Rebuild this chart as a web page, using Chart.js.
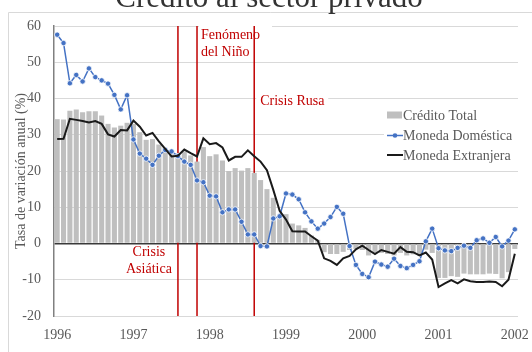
<!DOCTYPE html>
<html>
<head>
<meta charset="utf-8">
<style>
  html, body { margin: 0; padding: 0; background: #ffffff; overflow: hidden; }
  canvas { display: block; }
</style>
<script src="https://cdn.jsdelivr.net/npm/chart.js@4.4.1/dist/chart.umd.min.js"></script>
</head>
<body>
<canvas id="chart" width="532" height="352"></canvas>
<script>
// Monthly categories, Jan 1996 .. Jan 2002
const years = [1996, 1997, 1998, 1999, 2000, 2001];
const monthNumbers = ['01','02','03','04','05','06','07','08','09','10','11','12'];
const months = [];
years.forEach(y => monthNumbers.forEach(m => months.push(y + '-' + m)));
months.push('2002-01');

// Annual growth rate (%) of private-sector credit
const creditoTotal = [
  34.3, 34.2, 36.6, 37.0, 36.2, 36.5, 36.5, 35.3, 33.0, 32.0, 32.5, 33.3,
  33.0, 30.7, 28.6, 28.8, 27.3, 26.4, 24.6, 24.9, 25.4, 24.3, 22.6, 26.6,
  24.1, 24.6, 22.9, 20.0, 20.8, 20.1, 20.8, 19.5, 17.5, 15.0, 12.6, 8.0,
  8.1, 5.5, 5.0, 4.3, 2.2, 1.0, -2.4, -2.9, -2.9, -2.3, -1.8, -1.5,
  -1.8, -3.3, -2.7, -2.6, -2.9, -3.3, -2.6, -3.3, -3.0, -3.3, -1.7, -2.6,
  -9.5, -9.5, -9.0, -9.2, -8.3, -8.5, -8.5, -8.5, -8.3, -8.4, -9.6, -7.9,
  -1.5
];
const monedaDomestica = [
  57.6, 55.3, 44.2, 46.5, 44.7, 48.3, 45.9, 45.0, 44.1, 41.0, 37.0, 40.9,
  28.7, 24.8, 23.4, 21.7, 24.2, 25.8, 25.4, 24.1, 22.6, 21.7, 17.4, 16.9,
  13.2, 13.0, 8.6, 9.4, 9.4, 6.0, 2.5, 2.5, -0.7, -0.8, 6.9, 7.5,
  13.8, 13.5, 12.2, 8.6, 6.1, 4.1, 5.5, 7.3, 10.1, 8.2, -0.7, -5.9,
  -8.4, -9.3, -5.0, -5.8, -6.4, -4.2, -6.2, -6.8, -5.9, -4.9, 0.6, 4.1,
  -1.3, -1.9, -2.1, -1.2, -0.6, -1.2, 0.9, 1.4, 0.2, 1.8, -0.8, 0.8,
  3.9
];
const monedaExtranjera = [
  28.8, 28.9, 34.4, 34.1, 33.8, 33.4, 33.8, 33.0, 30.1, 29.5, 31.3, 31.2,
  33.9, 32.2, 29.8, 30.5, 28.2, 26.1, 24.0, 24.2, 25.9, 24.9, 24.0, 29.0,
  27.4, 27.7, 26.5, 22.9, 23.9, 23.9, 25.7, 24.1, 22.6, 20.2, 14.8, 9.0,
  6.6, 3.4, 3.3, 3.3, 2.0, 0.8, -4.1, -4.8, -5.9, -4.1, -3.4, -1.6,
  -0.6, -1.8, -2.9, -1.8, -2.3, -2.8, -1.0, -2.3, -2.4, -3.3, -2.5, -4.4,
  -12.0, -11.0, -10.1, -11.0, -9.9, -10.4, -10.6, -10.6, -10.5, -10.6, -11.8, -10.0,
  -2.8
];

// Value axis
const yMin = -20;
const yMax = 60;
const yStep = 10;

// Marked events
const eventMonths = ['1997-08', '1997-11', '1998-08'];
const eventLabels = [['Crisis', 'Asiática'], ['Fenómeno', 'del Niño'], ['Crisis Rusa']];

const seriesNames = ['Crédito Total', 'Moneda Doméstica', 'Moneda Extranjera'];
const chartTitle = 'Crédito al sector privado';
const yAxisTitle = 'Tasa de variación anual (%)';

const SERIF = '"Liberation Serif", "Times New Roman", "DejaVu Serif", serif';
const GRAY_TEXT = '#595959';
const RED = '#C00000';
const BAR_GRAY = '#BFBFBF';
const BLUE = '#4472C4';
const BLACK = '#1a1a1a';

Chart.defaults.font.family = SERIF;
Chart.defaults.color = GRAY_TEXT;

const decorations = {
  id: 'decorations',
  beforeDatasetsDraw(chart) {
    const { ctx, chartArea: a, scales: { x } } = chart;
    const ex = eventMonths.map(m => x.getPixelForValue(months.indexOf(m)));
    ctx.save();
    // white backing behind the upper annotation texts
    ctx.fillStyle = '#ffffff';
    ctx.fillRect(ex[1] + 2, a.top - 2, 73, 34);
    ctx.fillRect(ex[2] + 2, 90, 72, 18);
    // vertical event markers
    ctx.strokeStyle = RED;
    ctx.lineWidth = 1.5;
    ex.forEach(px => {
      ctx.beginPath();
      ctx.moveTo(px, a.top);
      ctx.lineTo(px, a.bottom);
      ctx.stroke();
    });
    // event texts
    ctx.fillStyle = RED;
    ctx.font = '14px ' + SERIF;
    ctx.textBaseline = 'alphabetic';
    ctx.textAlign = 'center';
    ctx.fillText(eventLabels[0][0], ex[0] - 29, 256);
    ctx.fillText(eventLabels[0][1], ex[0] - 29, 273);
    ctx.textAlign = 'left';
    ctx.fillText(eventLabels[1][0], ex[1] + 4, 39);
    ctx.fillText(eventLabels[1][1], ex[1] + 4, 56);
    ctx.fillText(eventLabels[2][0], ex[2] + 6, 105);
    ctx.restore();
  },
  afterDatasetsDraw(chart) {
    const { ctx, chartArea: a } = chart;
    ctx.save();
    // legend inside the plot
    const lx = 387, rowY = [115, 135.5, 155], tx = 403;
    ctx.fillStyle = '#ffffff';
    ctx.fillRect(lx - 3, 104, a.right - lx + 3, 60);
    ctx.fillStyle = BAR_GRAY;
    ctx.fillRect(lx, rowY[0] - 3.5, 15, 7);
    ctx.strokeStyle = BLUE;
    ctx.lineWidth = 1.5;
    ctx.beginPath(); ctx.moveTo(lx, rowY[1]); ctx.lineTo(tx, rowY[1]); ctx.stroke();
    ctx.fillStyle = BLUE;
    ctx.beginPath(); ctx.arc((lx + tx) / 2, rowY[1], 2.3, 0, Math.PI * 2); ctx.fill();
    ctx.strokeStyle = BLACK;
    ctx.lineWidth = 2;
    ctx.beginPath(); ctx.moveTo(lx, rowY[2]); ctx.lineTo(tx, rowY[2]); ctx.stroke();
    ctx.fillStyle = GRAY_TEXT;
    ctx.font = '14px ' + SERIF;
    ctx.textAlign = 'left';
    ctx.textBaseline = 'alphabetic';
    seriesNames.forEach((n, i) => ctx.fillText(n, tx, rowY[i] + 4.7));
    ctx.restore();
  },
  afterDraw(chart) {
    const { ctx, chartArea: a } = chart;
    ctx.save();
    // outer frame
    ctx.strokeStyle = '#d9d9d9';
    ctx.lineWidth = 1;
    ctx.beginPath();
    ctx.moveTo(8.5, 352);
    ctx.lineTo(8.5, 12.5);
    ctx.lineTo(532, 12.5);
    ctx.stroke();
    // title
    ctx.fillStyle = '#333333';
    ctx.font = '31px ' + SERIF;
    ctx.textAlign = 'center';
    ctx.textBaseline = 'alphabetic';
    ctx.fillText(chartTitle, 269, 7);
    // vertical axis title
    ctx.translate(24.5, (a.top + a.bottom) / 2);
    ctx.rotate(-Math.PI / 2);
    ctx.fillStyle = GRAY_TEXT;
    ctx.font = '14px ' + SERIF;
    ctx.fillText(yAxisTitle, 0, 0);
    ctx.restore();
  }
};

new Chart(document.getElementById('chart'), {
  data: {
    labels: months,
    datasets: [
      {
        type: 'line',
        label: seriesNames[2],
        data: monedaExtranjera,
        borderColor: BLACK,
        borderWidth: 2,
        pointRadius: 0,
        tension: 0,
        order: 1
      },
      {
        type: 'line',
        label: seriesNames[1],
        data: monedaDomestica,
        borderColor: BLUE,
        borderWidth: 1.5,
        pointRadius: 2.7,
        pointBackgroundColor: BLUE,
        pointBorderColor: '#ffffff',
        pointBorderWidth: 0.8,
        tension: 0,
        order: 2
      },
      {
        type: 'bar',
        label: seriesNames[0],
        data: creditoTotal,
        backgroundColor: BAR_GRAY,
        borderWidth: 0,
        barPercentage: 0.8,
        categoryPercentage: 1.0,
        order: 3
      }
    ]
  },
  options: {
    responsive: false,
    animation: false,
    events: [],
    layout: { padding: { left: 0, right: 14, top: 26, bottom: 0 } },
    plugins: {
      legend: { display: false },
      title: { display: false },
      tooltip: { enabled: false }
    },
    scales: {
      x: {
        type: 'category',
        offset: true,
        grid: { display: false, drawTicks: false },
        border: { display: false },
        ticks: {
          autoSkip: false,
          maxRotation: 0,
          minRotation: 0,
          padding: 11,
          color: GRAY_TEXT,
          font: { size: 14, family: SERIF },
          callback: (v, i) => months[i].endsWith('-01') ? months[i].slice(0, 4) : ''
        },
        afterFit: s => {
          s.height = 36;
          s.paddingLeft = 0;
          s.paddingRight = 0;
        }
      },
      y: {
        min: yMin,
        max: yMax,
        ticks: {
          stepSize: yStep,
          padding: 13,
          color: GRAY_TEXT,
          font: { size: 14, family: SERIF }
        },
        grid: {
          drawTicks: false,
          color: c => c.tick && c.tick.value === 0 ? '#3a3a3a' : '#d9d9d9',
          lineWidth: c => c.tick && c.tick.value === 0 ? 1.5 : 1
        },
        border: { display: true, color: '#808080', width: 1.5 },
        afterFit: s => {
          s.width = 54;
          s.paddingTop = 0;
          s.paddingBottom = 0;
        }
      }
    }
  },
  plugins: [decorations]
});
</script>
</body>
</html>
